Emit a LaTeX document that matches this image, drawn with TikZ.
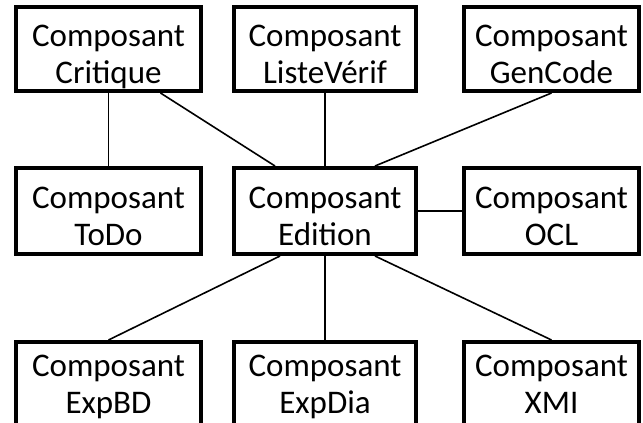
\documentclass[tikz,border=0pt]{standalone}
\usepackage{fontspec}
\setmainfont{Carlito}
\newcommand{\twol}[2]{\rule{0pt}{31pt}\smash{#1}\\\smash{#2}}
\newcommand{\twolb}[2]{\rule{0pt}{19pt}\smash{#1}\\\smash{#2}}
\begin{document}
\begin{tikzpicture}[x=1pt,y=-1pt,
  box/.style={draw=black, line width=4pt, fill=white, align=center, inner sep=0pt,
    font=\fontsize{33}{37}\selectfont},
  conn/.style={draw=black, line width=1.6pt}]
\useasboundingbox (0,0) rectangle (643,423);
\fill[white] (0,0) rectangle (643,423);
% top row
\node[box, minimum width=185pt, minimum height=84pt] (crit) at (108.5,49) {\twol{Composant}{Critique}};
\node[box, minimum width=182pt, minimum height=84pt] (liste) at (325,49) {\twol{Composant}{ListeVérif}};
\node[box, minimum width=175pt, minimum height=84pt] (gen) at (551.5,49) {\twol{Composant}{GenCode}};
% middle row
\node[box, minimum width=185pt, minimum height=86pt] (todo) at (108.5,211) {\twol{Composant}{ToDo}};
\node[box, minimum width=182pt, minimum height=86pt] (edit) at (325,211) {\twol{Composant}{Edition}};
\node[box, minimum width=175pt, minimum height=86pt] (ocl) at (551.5,211) {\twol{Composant}{OCL}};
% bottom row
\node[box, minimum width=185pt, minimum height=86pt] (expbd) at (108.5,385) {\twolb{Composant}{ExpBD}};
\node[box, minimum width=182pt, minimum height=86pt] (expdia) at (325,385) {\twolb{Composant}{ExpDia}};
\node[box, minimum width=175pt, minimum height=86pt] (xmi) at (551.5,385) {\twolb{Composant}{XMI}};
% connectors
\draw[conn] (crit.south) -- (todo.north);
\draw[conn] ([xshift=52pt]crit.south) -- ([xshift=-50pt]edit.north);
\draw[conn] (liste.south) -- (edit.north);
\draw[conn] (gen.south) -- ([xshift=50pt]edit.north);
\draw[conn] (edit.east) -- (ocl.west);
\draw[conn] ([xshift=-45pt]edit.south) -- (expbd.north);
\draw[conn] (edit.south) -- (expdia.north);
\draw[conn] ([xshift=50pt]edit.south) -- (xmi.north);
\end{tikzpicture}
\end{document}
